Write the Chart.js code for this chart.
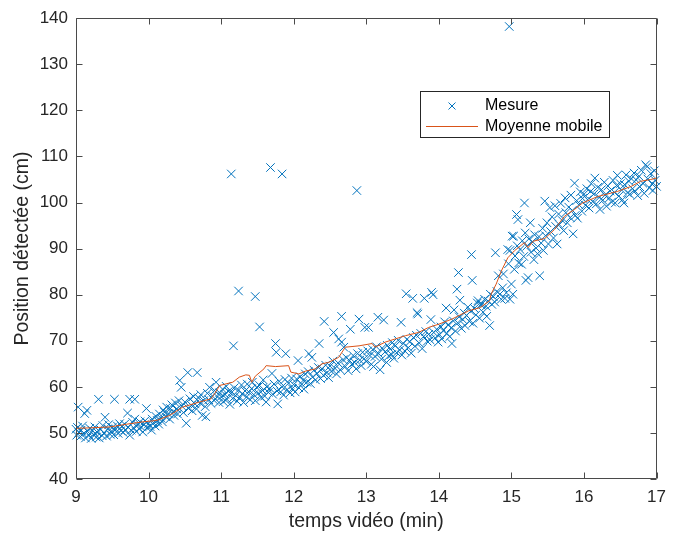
<!DOCTYPE html>
<html>
<head>
<meta charset="utf-8">
<script src="https://cdn.jsdelivr.net/npm/chart.js@4.4.1/dist/chart.umd.min.js"></script>
<style>
  html, body { margin: 0; padding: 0; background: #ffffff; }
  #wrap { width: 674px; height: 535px; }
</style>
</head>
<body>
<div id="wrap"><canvas id="c" width="674" height="535"></canvas></div>
<script>
// ---- Data ----
const xTitle = "temps vidéo (min)";
const yTitle = "Position détectée (cm)";
const seriesNames = ["Mesure", "Moyenne mobile"];
const xTicks = [9, 10, 11, 12, 13, 14, 15, 16, 17];
const yTicks = [40, 50, 60, 70, 80, 90, 100, 110, 120, 130, 140];

// Mesure: [time (min), position (cm)]
const mesure = [
[9.00,50.8],[9.01,49.5],[9.02,51.2],[9.03,55.6],[9.04,50.1],[9.06,49.2],[9.07,50.6],[9.09,51.5],[9.10,49.8],[9.12,54.2],
[9.13,48.9],[9.15,54.9],[9.16,50.3],[9.18,49.5],[9.19,51.0],[9.21,48.8],[9.23,50.5],[9.24,49.6],[9.26,51.3],[9.28,49.1],
[9.29,50.2],[9.31,57.3],[9.32,48.9],[9.34,50.7],[9.36,49.4],[9.37,51.6],[9.39,50.0],[9.40,53.4],[9.42,49.3],[9.44,50.9],
[9.45,51.8],[9.47,49.7],[9.49,50.4],[9.50,51.2],[9.52,49.6],[9.53,57.3],[9.55,50.8],[9.57,51.5],[9.58,49.9],[9.60,52.0],
[9.62,50.5],[9.63,51.4],[9.65,50.1],[9.67,51.9],[9.68,50.7],[9.71,54.3],[9.72,51.2],[9.74,57.3],[9.74,49.5],[9.76,50.6],
[9.78,52.3],[9.80,51.0],[9.81,57.3],[9.81,53.0],[9.83,50.3],[9.85,51.7],[9.87,50.9],[9.88,52.4],[9.90,51.3],[9.92,50.2],
[9.94,51.8],[9.95,52.6],[9.97,55.3],[9.98,51.1],
[10.00,52.0],[10.02,51.4],[10.04,50.6],[10.05,53.0],[10.07,52.2],[10.09,51.5],[10.10,53.6],[10.12,52.7],[10.14,51.9],[10.15,54.1],
[10.17,53.2],[10.19,52.4],[10.20,55.0],[10.22,54.5],[10.24,53.5],[10.25,55.6],[10.27,54.2],[10.29,53.0],[10.30,55.3],[10.32,56.1],
[10.34,54.6],[10.35,53.8],[10.37,56.5],[10.39,55.2],[10.40,54.1],[10.42,57.0],[10.43,61.4],[10.45,59.9],[10.46,55.8],[10.48,54.4],
[10.50,56.7],[10.52,52.1],[10.54,63.1],[10.55,55.3],[10.57,57.4],[10.59,56.0],[10.60,54.8],[10.62,57.9],[10.64,56.3],[10.66,55.2],
[10.67,63.1],[10.69,57.6],[10.71,56.5],[10.72,58.3],[10.74,53.8],[10.76,57.0],[10.78,55.7],[10.79,53.5],[10.81,58.6],[10.83,57.2],
[10.84,59.9],[10.86,56.4],[10.88,58.0],[10.90,57.1],[10.91,59.2],[10.93,61.0],[10.95,57.8],[10.97,56.6],[10.98,58.7],
[11.00,57.9],[11.02,59.5],[11.03,56.8],[11.05,58.4],[11.07,60.1],[11.08,57.3],[11.10,59.0],[11.12,56.2],[11.14,106.2],[11.14,58.7],
[11.16,57.5],[11.17,68.9],[11.18,59.8],[11.20,58.1],[11.22,56.9],[11.24,80.8],[11.24,59.3],[11.26,57.7],[11.28,60.4],[11.29,58.5],
[11.31,56.6],[11.33,59.1],[11.35,57.8],[11.36,60.6],[11.38,58.9],[11.40,57.2],[11.42,59.6],[11.43,61.0],[11.45,58.3],[11.47,79.6],
[11.47,57.0],[11.49,59.9],[11.51,58.6],[11.53,73.0],[11.53,60.3],[11.55,57.7],[11.57,59.2],[11.58,61.5],[11.60,58.0],[11.62,56.7],
[11.63,60.0],[11.65,58.8],[11.67,59.7],[11.68,107.6],[11.70,62.9],[11.71,58.4],[11.73,60.6],[11.75,69.4],[11.76,67.5],[11.77,59.1],
[11.78,56.3],[11.80,61.2],[11.82,58.9],[11.84,106.2],[11.84,60.0],[11.86,58.2],[11.88,61.6],[11.89,67.2],[11.91,59.4],[11.93,60.8],
[11.95,58.7],[11.97,61.9],[11.98,59.6],
[12.00,60.5],[12.02,58.9],[12.04,61.7],[12.06,65.7],[12.07,59.8],[12.09,62.2],[12.11,60.6],[12.13,61.4],[12.14,59.5],[12.16,62.8],
[12.18,61.0],[12.20,63.3],[12.21,67.2],[12.23,60.7],[12.25,66.4],[12.26,62.1],[12.28,63.6],[12.30,61.5],[12.32,62.9],[12.34,64.2],
[12.35,69.4],[12.37,61.8],[12.39,63.9],[12.41,62.5],[12.42,74.2],[12.44,64.7],[12.46,63.1],[12.48,62.0],[12.50,64.5],[12.52,63.4],
[12.54,65.6],[12.55,71.8],[12.57,64.0],[12.59,62.8],[12.61,65.2],[12.62,70.4],[12.64,63.7],[12.66,69.7],[12.66,75.3],[12.68,65.9],
[12.69,68.6],[12.71,64.4],[12.73,66.3],[12.75,63.5],[12.77,65.7],[12.78,72.5],[12.80,64.9],[12.82,66.8],[12.84,65.3],[12.86,63.9],
[12.87,102.6],[12.88,67.2],[12.90,74.7],[12.91,65.8],[12.93,64.6],[12.95,67.5],[12.97,66.1],[12.98,72.9],
[13.00,65.5],[13.02,67.8],[13.03,72.9],[13.05,66.8],[13.07,64.9],[13.09,68.1],[13.10,64.4],[13.12,66.6],[13.14,68.7],[13.16,75.1],
[13.17,67.2],[13.19,63.7],[13.21,66.0],[13.22,68.4],[13.24,74.5],[13.26,67.6],[13.28,65.3],[13.29,69.0],[13.31,66.7],[13.33,68.2],
[13.35,67.0],[13.36,69.6],[13.38,66.2],[13.40,68.9],[13.42,67.4],[13.44,70.1],[13.46,68.0],[13.48,74.0],[13.49,66.9],[13.51,69.4],
[13.53,67.8],[13.55,80.2],[13.56,70.3],[13.58,68.5],[13.60,69.8],[13.62,67.3],[13.64,79.2],[13.65,70.7],[13.67,68.8],[13.69,71.2],
[13.70,76.1],[13.71,75.8],[13.73,69.5],[13.75,71.6],[13.77,68.3],[13.79,70.9],[13.80,79.2],[13.82,72.0],[13.84,69.9],[13.86,71.4],
[13.88,70.2],[13.89,74.6],[13.90,80.5],[13.92,80.0],[13.93,71.8],[13.95,70.6],[13.97,72.5],[13.99,69.7],
[14.01,71.3],[14.03,73.0],[14.04,70.4],[14.06,72.2],[14.08,74.1],[14.10,77.1],[14.11,71.6],[14.13,73.5],[14.15,70.9],[14.17,72.8],
[14.18,69.4],[14.20,74.3],[14.21,76.7],[14.23,72.1],[14.25,81.2],[14.26,73.9],[14.27,84.8],[14.28,75.2],[14.29,78.8],[14.31,72.7],
[14.33,74.6],[14.35,76.0],[14.36,73.3],[14.38,75.5],[14.40,77.3],[14.42,74.2],[14.44,76.4],[14.45,88.7],[14.46,83.1],[14.47,73.8],
[14.49,77.0],[14.51,75.6],[14.53,78.2],[14.54,78.7],[14.56,74.9],[14.58,77.8],[14.59,78.0],[14.61,76.2],[14.63,79.0],[14.65,77.5],
[14.66,75.3],[14.68,78.6],[14.70,73.3],[14.71,80.1],[14.73,77.9],[14.75,79.6],[14.77,78.4],[14.78,89.1],[14.80,80.7],[14.82,84.1],
[14.84,80.1],[14.86,79.0],[14.88,81.5],[14.89,84.5],[14.91,79.2],[14.93,80.4],[14.95,89.8],[14.96,86.7],[14.97,138.2],[14.98,79.0],
[14.98,89.6],
[15.00,82.3],[15.01,92.7],[15.02,80.1],[15.03,92.7],[15.04,85.5],[15.05,88.4],[15.07,97.4],[15.08,90.6],[15.09,96.3],[15.10,86.9],
[15.12,89.8],[15.14,86.6],[15.15,91.7],[15.17,88.3],[15.18,99.9],[15.19,93.4],[15.20,83.1],[15.21,90.5],[15.23,83.7],[15.24,92.1],
[15.26,95.6],[15.27,89.2],[15.29,91.5],[15.31,87.6],[15.32,93.0],[15.34,90.1],[15.36,88.9],[15.38,92.6],[15.39,84.1],[15.41,91.2],
[15.43,94.4],[15.44,89.6],[15.46,100.3],[15.47,92.8],[15.49,95.6],[15.51,91.0],[15.53,98.9],[15.54,93.7],[15.56,96.9],[15.58,92.3],
[15.60,99.3],[15.61,94.8],[15.63,91.0],[15.65,97.5],[15.66,95.2],[15.68,99.8],[15.70,96.1],[15.72,93.9],[15.74,101.0],[15.75,97.8],
[15.77,95.6],[15.79,99.0],[15.81,96.7],[15.82,101.6],[15.84,98.3],[15.85,93.2],[15.87,104.2],[15.88,97.2],[15.90,100.4],[15.91,96.6],
[15.93,99.5],[15.95,102.3],[15.97,98.1],[15.98,100.9],
[16.00,101.8],[16.02,99.4],[16.04,103.0],[16.05,100.6],[16.07,98.8],[16.09,102.4],[16.10,104.1],[16.12,100.2],[16.14,101.9],[16.15,105.3],
[16.17,99.7],[16.19,103.3],[16.21,101.1],[16.22,98.5],[16.24,102.8],[16.26,100.5],[16.28,104.4],[16.29,101.6],[16.31,99.2],[16.33,103.6],
[16.35,101.0],[16.36,102.5],[16.38,100.1],[16.40,104.8],[16.42,102.2],[16.43,99.9],[16.45,103.7],[16.46,105.9],[16.48,101.4],[16.50,104.1],
[16.52,102.7],[16.53,100.6],[16.55,99.9],[16.56,103.9],[16.58,106.0],[16.60,102.1],[16.62,104.6],[16.63,101.8],[16.65,105.2],[16.67,103.0],
[16.69,106.4],[16.70,102.5],[16.72,104.9],[16.74,101.5],[16.76,105.7],[16.77,103.4],[16.79,107.0],[16.81,104.2],[16.83,102.0],[16.85,108.2],
[16.87,107.8],[16.88,105.1],[16.90,103.2],[16.92,106.3],[16.94,104.0],[16.95,102.6],[16.97,106.9],[16.98,104.8],[17.00,103.5]
];

// Moyenne mobile
const avgT = [9.00,9.20,9.47,9.70,9.92,10.11,10.29,10.47,10.70,10.86,10.91,10.98,11.16,11.25,11.34,11.39,11.42,11.47,11.59,11.62,
  11.75,11.93,11.96,12.07,12.16,12.30,12.39,12.48,12.62,12.71,12.90,13.08,13.12,13.26,13.40,13.54,13.72,13.86,14.00,14.18,
  14.41,14.57,14.70,14.72,14.79,14.86,14.95,15.04,15.18,15.23,15.30,15.46,15.59,15.73,15.87,15.98,16.19,16.46,16.65,16.78,16.92,17.00];
const avgV = [51.0,51.1,51.3,51.9,52.4,52.7,53.8,55.6,56.7,57.4,58.5,60.3,61.0,62.1,62.6,62.5,61.0,62.3,63.9,64.6,
  64.4,64.6,63.2,62.8,63.4,63.9,65.0,65.3,66.4,68.6,68.9,69.4,68.6,69.7,70.4,71.1,71.8,72.9,73.6,74.7,
  76.5,77.2,78.7,80.1,82.3,85.1,88.0,89.5,91.3,90.2,91.6,92.2,94.1,97.0,98.5,99.9,101.3,102.4,103.5,104.6,105.0,105.3];

// ---- Styles ----
const BLUE = '#0072BD';
const ORANGE = '#D95319';
const AXIS = '#262626';
const FONT = "'Liberation Sans', Arial, Helvetica, sans-serif";

const boxTicks = {
  id: 'boxTicks',
  afterDraw(chart) {
    const ctx = chart.ctx;
    const {left, right, top, bottom} = chart.chartArea;
    const xs = chart.scales.x, ys = chart.scales.y;
    const L = 6;
    ctx.save();
    ctx.strokeStyle = '#4a4a4a';
    ctx.lineWidth = 1;
    ctx.beginPath();
    const l = Math.round(left) + 0.5, r = Math.round(right) - 0.5;
    const t = Math.round(top) + 0.5, b = Math.round(bottom) - 0.5;
    ctx.rect(l, t, r - l, b - t);
    xs.ticks.forEach(tk => {
      const px = Math.round(xs.getPixelForValue(tk.value)) + 0.5;
      ctx.moveTo(px, b); ctx.lineTo(px, b - L);
      ctx.moveTo(px, t); ctx.lineTo(px, t + L);
    });
    ys.ticks.forEach(tk => {
      const py = Math.round(ys.getPixelForValue(tk.value)) + 0.5;
      ctx.moveTo(l, py); ctx.lineTo(l + L, py);
      ctx.moveTo(r, py); ctx.lineTo(r - L, py);
    });
    ctx.stroke();
    ctx.restore();
  }
};

const boxLegend = {
  id: 'boxLegend',
  afterDraw(chart) {
    const ctx = chart.ctx;
    const x0 = 420.5, y0 = 91.5, w = 189, h = 46;
    ctx.save();
    ctx.fillStyle = '#ffffff';
    ctx.fillRect(x0, y0, w, h);
    ctx.strokeStyle = '#262626';
    ctx.lineWidth = 1;
    ctx.strokeRect(x0, y0, w, h);
    // marker
    ctx.strokeStyle = BLUE;
    ctx.beginPath();
    const mx = 452, my = 106, s = 3.5;
    ctx.moveTo(mx - s, my - s); ctx.lineTo(mx + s, my + s);
    ctx.moveTo(mx - s, my + s); ctx.lineTo(mx + s, my - s);
    ctx.stroke();
    // line
    ctx.strokeStyle = ORANGE;
    ctx.beginPath();
    ctx.moveTo(426, 126.5); ctx.lineTo(478, 126.5);
    ctx.stroke();
    ctx.fillStyle = '#000000';
    ctx.font = "16px " + FONT;
    ctx.textBaseline = 'middle';
    ctx.textAlign = 'left';
    ctx.fillText(seriesNames[0], 485, 106);
    ctx.fillText(seriesNames[1], 485, 127);
    ctx.restore();
  }
};

new Chart(document.getElementById('c'), {
  type: 'scatter',
  data: {
    datasets: [
      {
        label: seriesNames[0],
        data: mesure.map(p => ({x: p[0], y: p[1]})),
        showLine: false,
        pointStyle: 'crossRot',
        pointRadius: 6,
        pointHoverRadius: 6,
        borderColor: BLUE,
        backgroundColor: BLUE,
        pointBorderWidth: 1,
        clip: false,
        order: 2
      },
      {
        label: seriesNames[1],
        data: avgT.map((t, i) => ({x: t, y: avgV[i]})),
        showLine: true,
        borderColor: ORANGE,
        borderWidth: 1,
        pointRadius: 0,
        tension: 0,
        fill: false,
        order: 1
      }
    ]
  },
  options: {
    responsive: false,
    animation: false,
    events: [],
    layout: { padding: { left: 0, right: 15, top: 16, bottom: 0 } },
    plugins: { legend: { display: false }, tooltip: { enabled: false } },
    scales: {
      x: {
        type: 'linear',
        min: xTicks[0], max: xTicks[xTicks.length - 1],
        afterBuildTicks: s => { s.ticks = xTicks.map(v => ({value: v})); },
        afterFit: s => { s.height = 56; },
        grid: { display: false, drawTicks: false },
        border: { display: false },
        ticks: { color: AXIS, padding: 8, font: { family: FONT, size: 17 }, maxRotation: 0, autoSkip: false },
        title: { display: true, text: xTitle, color: AXIS, font: { family: FONT, size: 19.5 }, padding: { top: 0, bottom: 2 } }
      },
      y: {
        type: 'linear',
        min: yTicks[0], max: yTicks[yTicks.length - 1],
        afterBuildTicks: s => { s.ticks = yTicks.map(v => ({value: v})); },
        afterFit: s => { s.width = 76; },
        grid: { display: false, drawTicks: false },
        border: { display: false },
        ticks: { color: AXIS, padding: 8, font: { family: FONT, size: 17 }, autoSkip: false },
        title: { display: true, text: yTitle, color: AXIS, font: { family: FONT, size: 19.5 }, padding: { top: 11, bottom: 0 } }
      }
    }
  },
  plugins: [boxTicks, boxLegend]
});
</script>
</body>
</html>
